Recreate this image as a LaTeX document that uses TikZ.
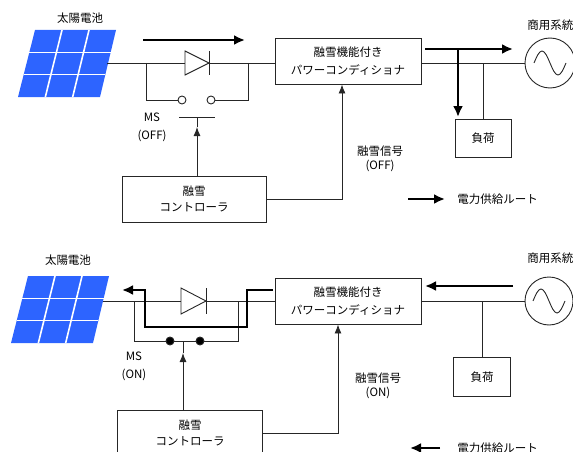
\documentclass[tikz,border=0pt]{standalone}
\usepackage{fontspec}
\setmainfont{Noto Sans CJK JP}
\usetikzlibrary{arrows.meta,calc,positioning}
\definecolor{cellblue}{RGB}{45,100,255}
\tikzstyle{blk}=[draw,rectangle,inner sep=0pt,align=center]
\tikzstyle{txt}=[inner sep=0pt,align=center]
\tikzstyle{contact}=[circle,draw,inner sep=0pt,minimum size=8pt]
\tikzstyle{route}=[draw=black,line width=2.8pt,-{Latex[length=11pt,width=10pt]}]
\tikzstyle{sig}=[-{Latex[length=9pt,width=7pt]}]

\begin{document}
\begin{tikzpicture}[x=1pt,y=-1pt,line width=0.9pt,draw=black!85,
  font=\fontsize{11.5}{16}\selectfont]
\useasboundingbox (0,0) rectangle (573,452);
\clip (0,0) rectangle (573,452);

% solar panels
\foreach \px/\py in {35/30,28/276}{
\begin{scope}[shift={(\px,\py)}]
\fill[cellblue] (0,0) -- (81,0) -- (65,67) -- (-17,67) -- cycle;
\foreach \t in {1/3,2/3}{
\draw[white,line width=1.6pt] ($(0,0)!\t!(-17,67)$) -- ($(81,0)!\t!(65,67)$);
\draw[white,line width=1.6pt] ($(0,0)!\t!(81,0)$) -- ($(-17,67)!\t!(65,67)$);
}
\end{scope}
}

%%%%% snow melting OFF
\node[txt] (pvA) at (80,18) {太陽電池};
\coordinate (pvAout) at (107,63);
\coordinate (jA1) at (146,63);
\coordinate (jA2) at (248,63);
\node[blk,minimum width=146pt,minimum height=46pt] (pcsA) at (348,61) {融雪機能付き\\[2pt]パワーコンディショナ};
\node[blk,minimum width=144pt,minimum height=46pt] (ctlA) at (194,199) {融雪\\コントローラ};
\node[circle,draw,inner sep=0pt,minimum size=50pt] (gridA) at (550,63) {};
\node[txt,anchor=west] (gridAlbl) at (527,25) {商用系統};
\node[blk,minimum width=56pt,minimum height=38pt] (loadA) at (483,138) {負荷};
\node[contact,fill=white] (swA1) at (182,100) {};
\node[contact,fill=white] (swA2) at (211,100) {};
\coordinate (barA) at (197,117);
\node[txt] (msA) at (152,127) {MS\\[2pt](OFF)};
\node[txt] (sigAlbl) at (380,159) {融雪信号\\[-2pt](OFF)};

\draw (pvAout) -- (pvAout -| pcsA.west);
\draw (pcsA.east |- pvAout) -- (gridA.west);
\draw[fill=white] (185,51) -- (209,63) -- (185,75) -- cycle;
\draw (209,51) -- (209,75);
\draw (jA1) |- (swA1.west);
\draw (jA2) |- (swA2.east);
\draw ($(barA)+(-18,0)$) -- ($(barA)+(18,0)$);
\draw[sig] (ctlA.north -| barA) -- ($(barA)+(0,10)$);
\draw ($(barA)+(0,10)$) -- (barA);
\draw[sig] (ctlA.east) -| ([xshift=-6pt]pcsA.south);
\draw (loadA.north) -- (loadA.north |- pvAout);
\draw (gridA.center) ++(-16,0) sin ++(8,-12) cos ++(8,12) sin ++(8,12) cos ++(8,-12);
% power route
\draw[route] (143,40) -- (245,40);
\draw[route] (425,49) -- (513,49);
\draw[route] (458,49) -- (458,117);
\coordinate (legA) at (408,199);
\draw[route] (legA) -- ++(37,0);
\node[txt,anchor=west] (legAlbl) at (457,199) {電力供給ルート};

%%%%% snow melting ON
\node[txt] (pvB) at (68,260) {太陽電池};
\coordinate (pvBout) at (103,301);
\coordinate (jB1) at (134,301);
\coordinate (jB2) at (238,301);
\node[blk,minimum width=146pt,minimum height=46pt] (pcsB) at (348,301) {融雪機能付き\\[2pt]パワーコンディショナ};
\node[blk,minimum width=145pt,minimum height=46pt] (ctlB) at (190,433) {融雪\\コントローラ};
\node[circle,draw,inner sep=0pt,minimum size=48pt] (gridB) at (549,301) {};
\node[txt,anchor=west] (gridBlbl) at (527,258) {商用系統};
\node[blk,minimum width=57pt,minimum height=39pt] (loadB) at (482,377) {負荷};
\node[contact,fill=black] (swB1) at (170,341) {};
\node[contact,fill=black] (swB2) at (200,341) {};
\coordinate (barB) at (183,341);
\node[txt] (msB) at (134,366) {MS\\[2pt](ON)};
\node[txt] (sigBlbl) at (378,386) {融雪信号\\[-2pt](ON)};

\draw (pvBout) -- (pcsB.west);
\draw (pcsB.east) -- (gridB.west);
\draw[fill=white] (181,288) -- (206,301) -- (181,314) -- cycle;
\draw (206,288) -- (206,314);
\draw (jB1) |- (swB1) -- (swB2) -| (jB2);
\draw[sig] (ctlB.north -| barB) -- ($(barB)+(0,12)$);
\draw ($(barB)+(0,12)$) -- (barB);
\draw[sig] (ctlB.east) -| ([xshift=-10pt]pcsB.south);
\draw (loadB.north) -- (loadB.north |- pvBout);
\draw (gridB.center) ++(-16,0) sin ++(8,-12) cos ++(8,12) sin ++(8,12) cos ++(8,-12);
% power route
\draw[route] (273,290) -- (247,290) -- (247,327) -- (145,327) -- (145,290) -- (122,290);
\draw[route] (513,286) -- (425,286);
\coordinate (legB) at (440,448);
\draw[route] (legB) -- ++(-30,0);
\node[txt,anchor=west] (legBlbl) at (457,448) {電力供給ルート};
\end{tikzpicture}
\end{document}
